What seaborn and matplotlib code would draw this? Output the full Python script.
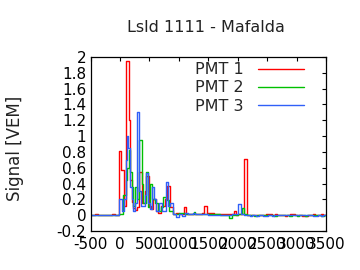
import numpy as np
import pandas as pd
import matplotlib
matplotlib.use("Agg")
import matplotlib.pyplot as plt
import seaborn as sns
from matplotlib.ticker import FuncFormatter, MultipleLocator

# ---- data (step traces: bin start times [ns] and signal [VEM]) ----
pmt1_t = [-500, -420, -370, -130, -80, -10, 15, 75, 100, 150, 175, 200, 225, 260, 290, 330, 375, 425,
          445, 490, 520, 560, 610, 650, 700, 760, 800, 850, 900, 950, 1000, 1095, 1120, 1200, 1400,
          1427, 1473, 1600, 1700, 1940, 1965, 2000, 2105, 2150, 2480, 2590, 2630, 2665, 2800, 2835,
          2885, 2970, 3100, 3195, 3275, 3320, 3410, 3450]
pmt1_v = [0.0, 0.02, 0.0, 0.02, 0.0, 0.81, 0.57, 0.11, 1.95, 1.20, 0.45, 0.17, 0.09, 0.06, 0.10, 0.55,
          0.15, 0.30, 0.50, 0.12, 0.08, 0.20, 0.05, 0.03, 0.12, 0.20, 0.37, 0.10, 0.02, 0.03, 0.01,
          0.10, 0.01, 0.02, 0.03, 0.12, 0.025, 0.015, 0.01, 0.05, 0.0, 0.02, 0.71, 0.0, 0.015, 0.0,
          0.015, 0.0, -0.015, 0.0, 0.015, 0.0, -0.015, 0.0, 0.015, 0.0, 0.015, 0.0]

pmt2_t = [-500, -10, 60, 95, 125, 150, 175, 200, 225, 260, 290, 330, 375, 400, 445, 480, 510, 540,
          600, 650, 700, 735, 785, 840, 900, 1000, 1100, 1250, 1280, 1400, 1600, 1700, 1855, 1895,
          2000, 2065, 2110, 2160, 2280, 2320, 2620, 2660, 2880, 2920, 3000, 3040, 3140, 3180, 3420, 3460]
pmt2_v = [0.0, 0.02, 0.26, 0.45, 0.60, 0.82, 0.55, 0.35, 0.12, 0.35, 0.20, 0.95, 0.40, 0.15, 0.55,
          0.10, 0.40, 0.20, 0.15, 0.05, 0.10, 0.23, 0.19, 0.05, 0.02, 0.03, 0.02, 0.04, 0.02, 0.015,
          0.01, 0.0, -0.035, 0.0, 0.02, 0.09, 0.02, 0.0, -0.015, 0.0, -0.015, 0.0, -0.015, 0.0,
          -0.015, 0.0, -0.015, 0.0, -0.015, 0.0]

pmt3_t = [-500, -10, 30, 70, 95, 115, 145, 175, 200, 225, 260, 290, 330, 360, 420, 445, 475, 510,
          540, 580, 610, 670, 710, 785, 810, 850, 895, 950, 1000, 1050, 1100, 1150, 1235, 1275, 1500,
          1700, 1900, 2000, 2050, 2100, 2205, 2250, 2310, 2360, 2430, 2510, 2575, 2615, 3275, 3360,
          3410, 3455]
pmt3_v = [0.0, 0.20, 0.05, 0.20, 0.70, 1.00, 0.85, 0.35, 0.20, 0.05, 0.15, 1.31, 0.30, 0.12, 0.25,
          0.53, 0.15, 0.08, 0.36, 0.20, 0.05, 0.15, 0.05, 0.42, 0.12, 0.15, 0.02, -0.02, 0.02, -0.01,
          0.03, 0.01, 0.03, 0.01, 0.005, 0.0, 0.02, 0.14, 0.02, 0.0, -0.015, 0.0, -0.015, 0.0,
          -0.015, 0.0, -0.015, 0.0, -0.015, 0.0, -0.015, 0.0]

labels = ["PMT 1", "PMT 2", "PMT 3"]
colors = ["#ff0000", "#00c000", "#3060f8"]
t_end = 3500
x_ticks = list(range(-500, 3501, 500))
title = "Lsld 1111 - Mafalda"
ylabel = "Signal [VEM]"

# ---- build long table ----
frames = []
for lab, t, v in zip(labels, [pmt1_t, pmt2_t, pmt3_t], [pmt1_v, pmt2_v, pmt3_v]):
    tt = list(t) + [t_end]
    vv = list(v) + [v[-1]]
    frames.append(pd.DataFrame({"time": tt, "signal": vv, "PMT": lab}))
df = pd.concat(frames, ignore_index=True)

sns.set_theme(style="white")
plt.rcParams["font.family"] = ["DejaVu Sans"]
plt.rcParams["axes.unicode_minus"] = False

fig = plt.figure(figsize=(3.6, 2.7), dpi=100)
ax = fig.add_axes([90.5 / 360, 1 - 231 / 270, (326 - 90.5) / 360, (231 - 57) / 270])

sns.lineplot(data=df, x="time", y="signal", hue="PMT", palette=dict(zip(labels, colors)),
             drawstyle="steps-post", estimator=None, sort=False, linewidth=1.0, ax=ax)

ax.set_xlim(-500, 3500)
ax.set_ylim(-0.2, 2.0)
ax.set_xticks(x_ticks)
ax.yaxis.set_major_locator(MultipleLocator(0.2))
ax.yaxis.set_major_formatter(FuncFormatter(lambda v, p: ("%g" % round(v, 2))))
ax.tick_params(direction="in", length=3, width=0.8, top=True, right=True,
               labelsize=11, colors="black", pad=4)
ax.tick_params(axis="y", pad=3)
for s in ax.spines.values():
    s.set_color("black")
    s.set_linewidth(0.9)
ax.set_xlabel("")
ax.set_ylabel(ylabel, fontsize=12, color="#222222")
ax.yaxis.set_label_coords((24 - 90.5) / 235.5, (231 - 148) / 174)
fig.text(206 / 360, 1 - 27 / 270, title, ha="center", va="center", fontsize=11.5, color="#222222")

leg = ax.legend(loc="upper right", bbox_to_anchor=(0.934, 1.007), frameon=False, markerfirst=False,
                handlelength=2.9, fontsize=11.5, labelspacing=0.2, borderaxespad=0.0,
                handletextpad=0.9)
for ln in leg.get_lines():
    ln.set_linewidth(1.0)

fig.savefig("out.png", dpi=100)
